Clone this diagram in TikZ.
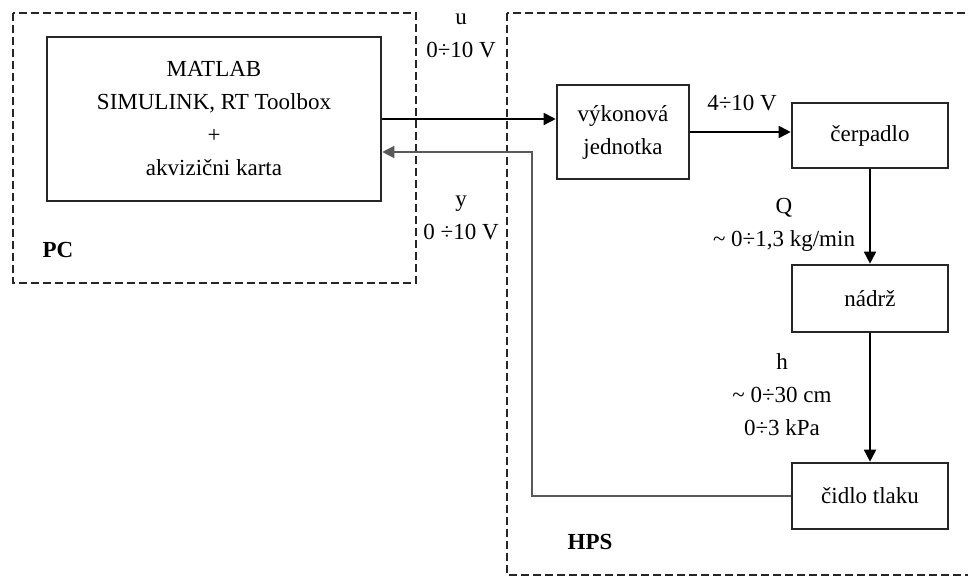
\documentclass[tikz,border=0pt]{standalone}
\usepackage{fontspec}
\setmainfont{Liberation Serif}
\usepackage{tikz}
\usetikzlibrary{arrows.meta}

\begin{document}
\begin{tikzpicture}[x=0.5pt,y=-0.5pt,
  font=\fontsize{11.5}{16.5}\selectfont,
  block/.style={draw=black!85,line width=1.3pt,inner sep=0pt,align=center},
  zone/.style={draw=black!85,line width=0.9pt,dash pattern=on 4pt off 2pt},
  arr/.style={-{Triangle[length=6pt,width=6pt]},line width=0.8pt},
  fb/.style={arr,draw=black!65},
  lab/.style={align=center,inner sep=0pt}]
\useasboundingbox (0,0) rectangle (968,576);

% Areas
\draw[zone] (13,13) rectangle (416,283);
\draw[zone] (507,13) rectangle (990,575);
\node[lab,font=\fontsize{11.5}{16.5}\selectfont\bfseries] (pc) at (58,250) {PC};
\node[lab,font=\fontsize{11.5}{16.5}\selectfont\bfseries] (hps) at (590,542) {HPS};

% Blocks
\node[block,minimum width=167pt,minimum height=82pt] (matlab) at (214,119)
  {MATLAB\\SIMULINK, RT Toolbox\\+\\akvizični karta};
\node[block,minimum width=66pt,minimum height=47pt] (vykon) at (623,132) {výkonová\\jednotka};
\node[block,minimum width=78pt,minimum height=32.5pt] (cerpadlo) at (870,135.5) {čerpadlo};
\node[block,minimum width=78pt,minimum height=33.5pt] (nadrz) at (870,298.5) {nádrž};
\node[block,minimum width=78pt,minimum height=33pt] (cidlo) at (870,496) {čidlo tlaku};

% Signals
\draw[arr] (matlab.east) -- (matlab.east -| vykon.west);
\draw[arr] (vykon.east) -- (vykon.east -| cerpadlo.west);
\draw[arr] (cerpadlo.south) -- (nadrz.north);
\draw[arr] (nadrz.south) -- (cidlo.north);
\coordinate (yturn) at (532,152);
\coordinate (yin) at (matlab.east |- yturn);
\draw[fb] (cidlo.west) -| (yturn) -- (yin);

% Labels
\node[lab] (ulab) at (461,36) {u\\0÷10 V};
\node[lab] (ylab) at (461,218) {y\\0 ÷10 V};
\node[lab] (vlab) at (742,103) {4÷10 V};
\node[lab] (qlab) at (784,225) {Q\\\textasciitilde{} 0÷1,3 kg/min};
\node[lab] (hlab) at (782,395) {h\\\textasciitilde{} 0÷30 cm\\0÷3 kPa};
\end{tikzpicture}
\end{document}
